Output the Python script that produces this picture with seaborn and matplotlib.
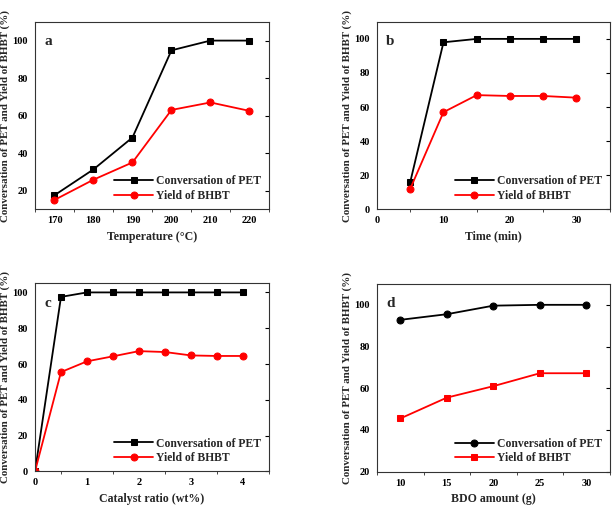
import matplotlib
matplotlib.use("Agg")
import matplotlib.pyplot as plt
import matplotlib.lines as mlines
import seaborn as sns
import pandas as pd
from matplotlib.ticker import AutoMinorLocator, MultipleLocator

sns.set_theme(style="white")
plt.rcParams['font.family'] = ['Liberation Serif', 'DejaVu Serif']
plt.rcParams['font.weight'] = 'bold'

# Panel a
temp = [170, 180, 190, 200, 210, 220]
conv_a = [17.5, 31.3, 48.3, 94.8, 100, 100]
yield_a = [15.0, 25.8, 35.0, 63.0, 67.0, 62.5]
# Panel b
time_min = [5, 10, 15, 20, 25, 30]
conv_b = [16.0, 98.0, 100, 100, 100, 100]
yield_b = [12.0, 57.0, 67.0, 66.5, 66.5, 65.5]
# Panel c
cat_ratio = [0, 0.5, 1, 1.5, 2, 2.5, 3, 3.5, 4]
conv_c = [0, 97.5, 100, 100, 100, 100, 100, 100, 100]
yield_c = [0, 55.5, 61.5, 64.3, 67.2, 66.7, 64.8, 64.5, 64.5]
# Panel d
bdo = [10, 15, 20, 25, 30]
conv_d = [92.8, 95.5, 99.6, 100, 100]
yield_d = [45.5, 55.5, 61.0, 67.2, 67.2]

ylabel = "Conversation of PET and Yield of BHBT (%)"
lab_conv = "Conversation of PET"
lab_yield = "Yield of BHBT"

fig = plt.figure(figsize=(6.14, 5.08), dpi=100)
pos = {
    'a': [0.057, 0.588, 0.381, 0.369],
    'b': [0.614, 0.588, 0.379, 0.369],
    'c': [0.057, 0.072, 0.381, 0.370],
    'd': [0.614, 0.0715, 0.379, 0.3695],
}
panels = [
    ('a', temp, conv_a, yield_a, 's', 'o', "Temperature (\u00b0C)", (165, 225), (10, 110), 10, 20),
    ('b', time_min, conv_b, yield_b, 's', 'o', "Time (min)", (0, 35), (0, 110), 10, 20),
    ('c', cat_ratio, conv_c, yield_c, 's', 'o', "Catalyst ratio (wt%)", (0, 4.5), (0, 105), 1, 20),
    ('d', bdo, conv_d, yield_d, 'o', 's', "BDO amount (g)", (7.5, 32.5), (20, 110), 5, 20),
]

for letter, x, c, y, mc, my, xlabel, xl, yl, xmaj, ymaj in panels:
    ax = fig.add_axes(pos[letter])
    df = pd.DataFrame({'x': x, 'conv': c, 'yield': y})
    sns.lineplot(data=df, x='x', y='conv', ax=ax, color='black', marker=mc,
                 markersize=5, markeredgecolor='black', linewidth=1.3, label=lab_conv)
    sns.lineplot(data=df, x='x', y='yield', ax=ax, color='red', marker=my,
                 markersize=5, markeredgecolor='red', linewidth=1.3, label=lab_yield)
    ax.set_xlim(*xl)
    ax.set_ylim(*yl)
    ax.xaxis.set_major_locator(MultipleLocator(xmaj))
    ax.yaxis.set_major_locator(MultipleLocator(ymaj))
    ax.xaxis.set_minor_locator(AutoMinorLocator(2))
    ax.tick_params(axis='x', which='major', direction='out', length=3, width=0.8,
                   labelsize=7.5, pad=2, colors='black')
    ax.tick_params(axis='x', which='minor', direction='out', length=2, width=0.6, bottom=True)
    ax.tick_params(axis='y', which='major', direction='out', length=3, width=0.8,
                   labelsize=7.5, pad=2, right=True, colors='black')
    for lab in ax.get_xticklabels() + ax.get_yticklabels():
        lab.set_fontweight('bold')
    for s in ax.spines.values():
        s.set_color('#333333')
        s.set_linewidth(0.8)
    ax.set_xlabel(xlabel, fontsize=8.6, fontweight='bold', labelpad=4)
    ax.set_ylabel(ylabel, fontsize=7.9, fontweight='bold', labelpad=2)
    ax.text(0.04, 0.93, letter, transform=ax.transAxes, fontsize=11,
            fontweight='bold', va='top', ha='left')
    leg = ax.legend(loc='lower right', frameon=False, fontsize=8.4, handlelength=3.3,
                    handletextpad=0.3, labelspacing=0.2, borderaxespad=0.25)
    for t in leg.get_texts():
        t.set_fontweight('bold')

# right-side inward ticks
for ax in fig.axes:
    for t in ax.yaxis.get_major_ticks():
        t.tick2line.set_marker(mlines.TICKLEFT)

fig.savefig("out.png", dpi=100)
